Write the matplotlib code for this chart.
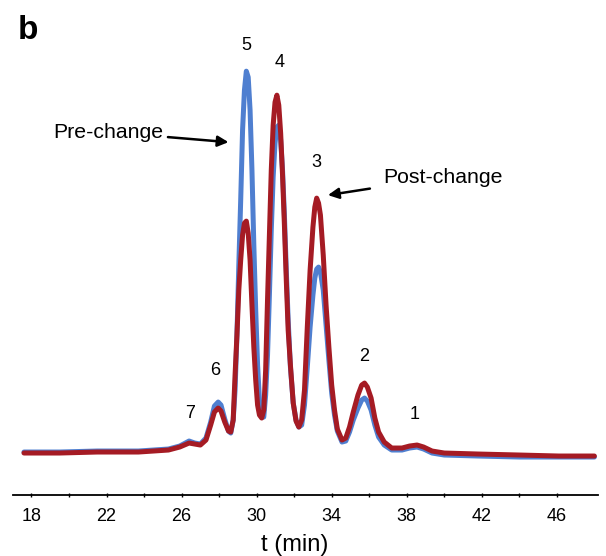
import matplotlib.pyplot as plt

plt.rcParams['font.family'] = ['Liberation Sans', 'DejaVu Sans']

# retention time (min), shared by both traces
t = [17.6, 19.5, 21.5, 23.7, 25.3, 25.9, 26.4, 26.7, 27.0, 27.3,
     27.55, 27.75, 27.95, 28.1, 28.3, 28.5, 28.62, 28.75, 28.85, 28.95,
     29.05, 29.15, 29.25, 29.35, 29.45, 29.55, 29.65, 29.75, 29.85, 29.95,
     30.05, 30.15, 30.27, 30.38, 30.48, 30.58, 30.68, 30.78, 30.88, 30.98,
     31.08, 31.18, 31.28, 31.38, 31.48, 31.58, 31.68, 31.8, 31.95, 32.1,
     32.25, 32.4, 32.55, 32.7, 32.85, 33.0, 33.1, 33.2, 33.3, 33.4,
     33.55, 33.7, 33.85, 34.0, 34.15, 34.3, 34.55, 34.75, 34.95, 35.15,
     35.4, 35.6, 35.75, 35.9, 36.1, 36.3, 36.5, 36.8, 37.2, 37.75,
     38.15, 38.55, 38.9, 39.35, 40.0, 41.8, 44.0, 46.1, 48.0]

pre_change = [3, 3, 4, 4, 6, 9, 14, 12, 11, 17,
              33, 49, 53, 50, 36, 24, 22, 35, 65, 120,
              190, 255, 325, 365, 384, 378, 345, 285, 210, 145,
              90, 55, 40, 38, 60, 100, 160, 225, 278, 312,
              328, 330, 315, 285, 240, 185, 135, 88, 52, 35,
              28, 30, 50, 88, 128, 160, 177, 186, 188, 183,
              165, 130, 95, 62, 40, 24, 13, 14, 23, 35,
              47, 55, 57, 54, 45, 30, 18, 10, 5, 5,
              7, 8, 6, 2, 0, -1, -2, -2, -2]

post_change = [2, 2, 3, 3, 5, 8, 12, 11, 10, 15,
               30, 43, 47, 44, 33, 24, 23, 35, 80, 120,
               165, 195, 220, 232, 234, 222, 195, 150, 108, 75,
               50, 40, 37, 45, 85, 155, 220, 285, 330, 353,
               360, 350, 322, 280, 230, 175, 125, 90, 52, 34,
               28, 35, 65, 128, 185, 228, 248, 257, 252, 240,
               200, 150, 108, 70, 45, 26, 15, 17, 28, 43,
               60, 70, 72, 68, 57, 37, 23, 13, 7, 7,
               9, 10, 8, 4, 2, 1, 0, -1, -1]

peak_labels = ['7', '6', '5', '4', '3', '2', '1']
peak_t = [26.45, 27.8, 29.45, 31.25, 33.2, 35.75, 38.4]
peak_y = [42, 85, 410, 393, 293, 99, 41]

fig = plt.figure(figsize=(6.06, 5.56), dpi=100)
ax = fig.add_axes([0.021, 0.1097, 0.966, 0.818])

ax.plot(t, pre_change, color='#4f7fd0', lw=3.6, solid_capstyle='round',
        solid_joinstyle='round')
ax.plot(t, post_change, color='#a51b24', lw=3.6, solid_capstyle='round',
        solid_joinstyle='round')

for lab, px, py in zip(peak_labels, peak_t, peak_y):
    ax.text(px, py, lab, ha='center', va='center', fontsize=13)

# arrows
ax.annotate('Pre-change', xy=(28.5, 313), xytext=(25.05, 323),
            ha='right', va='center', fontsize=15.3,
            arrowprops=dict(arrowstyle='-|>', color='black', lw=1.8,
                            mutation_scale=16, shrinkA=1, shrinkB=0))
ax.annotate('Post-change', xy=(33.8, 260), xytext=(36.77, 278),
            ha='left', va='center', fontsize=15.3,
            arrowprops=dict(arrowstyle='-|>', color='black', lw=1.8,
                            mutation_scale=16, shrinkA=8, shrinkB=0))

ax.set_xlim(17.0, 48.2)
ax.set_ylim(-40, 415)
ax.set_xticks([18, 22, 26, 30, 34, 38, 42, 46])
ax.set_xticks(range(18, 48, 2), minor=True)
ax.tick_params(axis='x', which='both', direction='inout', length=3,
               width=1, labelsize=13, pad=8)
ax.set_xlabel('t (min)', fontsize=17)
ax.xaxis.set_label_coords(0.482, -0.085)
ax.set_yticks([])
for s in ['left', 'right', 'top']:
    ax.spines[s].set_visible(False)
ax.spines['bottom'].set_linewidth(1.3)

fig.text(0.03, 0.945, 'b', fontsize=24, fontweight='bold', ha='left', va='center')

fig.savefig('out.png', dpi=100)
